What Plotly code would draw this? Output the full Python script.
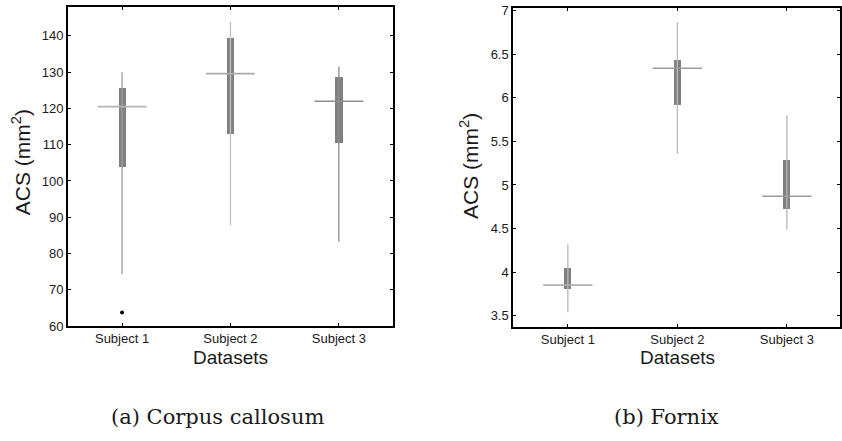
import plotly.graph_objects as go
from plotly.subplots import make_subplots

# Category labels and positions
subjects = ["Subject 1", "Subject 2", "Subject 3"]
positions = [1, 2, 3]

# Corpus callosum cross-sectional area (mm^2): box-plot statistics
cc_low = [74.3, 87.7, 83.2]
cc_q1 = [103.9, 112.9, 110.4]
cc_med = [120.5, 129.6, 122.0]
cc_q3 = [125.6, 139.5, 128.8]
cc_high = [130.0, 143.9, 131.6]
cc_outlier_pos = [1]
cc_outlier_val = [63.7]

# Fornix cross-sectional area (mm^2): box-plot statistics
fx_low = [3.54, 5.36, 4.49]
fx_q1 = [3.80, 5.92, 4.72]
fx_med = [3.85, 6.34, 4.87]
fx_q3 = [4.04, 6.43, 5.29]
fx_high = [4.32, 6.87, 5.80]

cc_ticks = [60, 70, 80, 90, 100, 110, 120, 130, 140]
fx_ticks = [3.5, 4, 4.5, 5, 5.5, 6, 6.5, 7]

BOX_COLOR = "#808080"
cc_whisker_colors = ["#9c9c9c", "#c2c2c2", "#8e8e8e"]
cc_median_colors = ["#b4b4b4", "#ababab", "#8e8e8e"]
fx_whisker_colors = ["#b6b6b6", "#bababa", "#b6b6b6"]
fx_median_colors = ["#b0b0b0", "#9c9c9c", "#9a9a9a"]

fig = make_subplots(rows=1, cols=2)


def add_boxes(col, low, q1, med, q3, high, wcolors, mcolors):
    # whiskers
    for p, lo, hi, c in zip(positions, low, high, wcolors):
        fig.add_trace(go.Scatter(x=[p, p], y=[lo, hi], mode="lines",
                                 line=dict(color=c, width=1.3),
                                 hoverinfo="skip", showlegend=False),
                      row=1, col=col)
    # interquartile boxes
    fig.add_trace(go.Bar(x=positions, y=[b - a for a, b in zip(q1, q3)], base=q1,
                         width=0.066, marker=dict(color=BOX_COLOR, line=dict(width=0)),
                         showlegend=False, hoverinfo="skip"),
                  row=1, col=col)
    # medians
    for p, m, c in zip(positions, med, mcolors):
        fig.add_trace(go.Scatter(x=[p - 0.225, p + 0.225], y=[m, m], mode="lines",
                                 line=dict(color=c, width=1.6),
                                 hoverinfo="skip", showlegend=False),
                      row=1, col=col)


add_boxes(1, cc_low, cc_q1, cc_med, cc_q3, cc_high, cc_whisker_colors, cc_median_colors)
fig.add_trace(go.Scatter(x=cc_outlier_pos, y=cc_outlier_val, mode="markers",
                         marker=dict(color="black", size=4),
                         hoverinfo="skip", showlegend=False), row=1, col=1)
add_boxes(2, fx_low, fx_q1, fx_med, fx_q3, fx_high, fx_whisker_colors, fx_median_colors)

tick_font = dict(family="Liberation Sans, Arial, sans-serif", size=13, color="#1a1a1a")
axis_common = dict(showline=True, linecolor="black", linewidth=1.5, mirror="ticks",
                   ticks="inside", ticklen=3, tickwidth=1, tickcolor="black",
                   showgrid=False, zeroline=False, tickfont=tick_font, fixedrange=True,
                   ticklabeloverflow="allow")

fig.update_xaxes(**axis_common, tickvals=positions, ticktext=subjects)
fig.update_yaxes(**axis_common)

fig.update_layout(
    xaxis=dict(domain=[0.0808, 0.4679], range=[0.5, 3.5]),
    yaxis=dict(domain=[0.2501, 0.9955], range=[60, 148], tickvals=cc_ticks),
    xaxis2=dict(domain=[0.6108, 1.0], range=[0.5, 3.485]),
    yaxis2=dict(domain=[0.2478, 0.9925], range=[3.37, 7.03], tickvals=fx_ticks),
    width=842, height=441,
    margin=dict(l=0, r=0, t=0, b=0),
    paper_bgcolor="white", plot_bgcolor="white",
    bargap=0,
)

title_font = dict(family="Liberation Sans, Arial, sans-serif", size=19, color="#1a1a1a")
ytitle_font = dict(family="Liberation Sans, Arial, sans-serif", size=21, color="#1a1a1a")
caption_font = dict(family="DejaVu Serif, serif", size=21, color="#1a1a1a")
W, H = 842, 441
annotations = [
    dict(text="Datasets", x=231 / W, y=1 - 363 / H, font=title_font),
    dict(text="Datasets", x=679 / W, y=1 - 363 / H, font=title_font),
    dict(text="ACS (mm<sup>2</sup>)", x=21 / W, y=1 - 162 / H, textangle=-90, font=ytitle_font),
    dict(text="ACS (mm<sup>2</sup>)", x=470 / W, y=1 - 166 / H, textangle=-90, font=ytitle_font),
    dict(text="(a) Corpus callosum", x=218 / W, y=1 - 425 / H, font=caption_font),
    dict(text="(b) Fornix", x=668 / W, y=1 - 425 / H, font=caption_font),
]
for a in annotations:
    fig.add_annotation(xref="paper", yref="paper", showarrow=False,
                       xanchor="center", yanchor="middle", **a)

fig.write_html("out.html", config={"displayModeBar": False})
